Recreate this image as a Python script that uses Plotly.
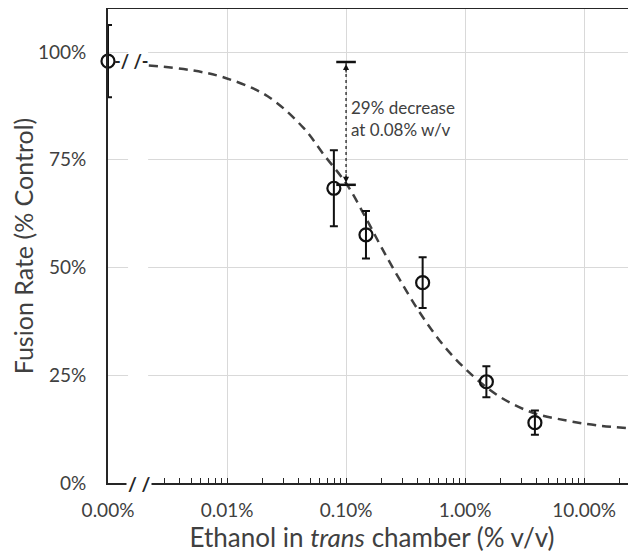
import math
import plotly.graph_objects as go

# ---- data ----
conc_pct = [0.001, 0.079, 0.147, 0.44, 1.51, 3.86]      # ethanol % v/v (control drawn at 0.00%)
fusion_pct = [97.9, 68.4, 57.6, 46.5, 23.5, 14.0]       # fusion rate, % of control
fusion_err = [8.4, 8.8, 5.5, 5.9, 3.6, 2.8]

fit_x = [0.0022, 0.005, 0.0097, 0.0218, 0.0439, 0.0646, 0.102, 0.15, 0.2,
         0.285, 0.434, 0.703, 1.17, 1.96, 3.71, 7.12, 12.7, 27.0]
fit_y = [96.9, 95.8, 94.0, 89.8, 82.4, 76.3, 69.2, 61.0, 54.5,
         47.0, 38.8, 31.0, 24.8, 20.0, 16.3, 14.5, 13.4, 12.6]

x_tickvals = [0.001, 0.01, 0.1, 1, 10]
x_ticktext = ["0.00%", "0.01%", "0.10%", "1.00%", "10.00%"]
y_tickvals = [0, 25, 50, 75, 100]
y_ticktext = ["0%", "25%", "50%", "75%", "100%"]

decrease_x = 0.1
decrease_top = 97.7
decrease_bottom = 69.2
decrease_text = "29% decrease<br>at 0.08% w/v"

FONT = "Lato"
TXT = "#404040"
AX = "#262626"
GRID = "#d9d9d9"

minor_vals = [m * 10 ** e for e in range(-3, 2) for m in range(2, 10)]

fig = go.Figure()

# fitted curve
fig.add_trace(go.Scatter(
    x=fit_x, y=fit_y, mode="lines", line_shape="spline",
    line=dict(color="#404040", width=2.5, dash="9px,6px"),
    hoverinfo="skip", showlegend=False))

# decrease indicator: dotted line + caps
fig.add_shape(type="line", x0=decrease_x, x1=decrease_x, y0=decrease_top, y1=decrease_bottom,
              xref="x", yref="y", line=dict(color="#111111", width=1.2, dash="dot"))
fig.add_trace(go.Scatter(
    x=[decrease_x, decrease_x], y=[decrease_top, decrease_bottom], mode="markers",
    marker=dict(symbol="line-ew", size=14, line=dict(color="#111111", width=2.5)),
    hoverinfo="skip", showlegend=False, cliponaxis=False))

# data points
fig.add_trace(go.Scatter(
    x=conc_pct, y=fusion_pct, mode="markers",
    marker=dict(symbol="circle-open", size=13, color="#111111", line=dict(width=2.2)),
    error_y=dict(type="data", array=fusion_err, color="#111111", thickness=2, width=4),
    cliponaxis=False, showlegend=False))

lx = math.log10(decrease_x)
for yv, ay in [(decrease_top, 12), (decrease_bottom, -12)]:
    fig.add_annotation(x=lx, y=yv, xref="x", yref="y", ax=0, ay=ay, text="",
                       showarrow=True, arrowhead=2, arrowsize=1.1, arrowwidth=1.1,
                       arrowcolor="#111111", standoff=2)

fig.add_annotation(x=lx + 0.025, y=84.7, xref="x", yref="y", text=decrease_text,
                   showarrow=False, xanchor="left", yanchor="middle", align="left",
                   font=dict(family=FONT, size=17, color=TXT))

# axis-break marks
fig.add_shape(type="rect", xref="x domain", yref="y domain", x0=0.038, x1=0.076,
              y0=0.006, y1=0.95, fillcolor="white", line=dict(width=0), layer="above")
fig.add_annotation(x=0.045, y=fusion_pct[0], xref="x domain", yref="y",
                   text="<b>-/ /-</b>", showarrow=False, xanchor="center", yanchor="middle",
                   font=dict(family=FONT, size=18, color=AX))
fig.add_annotation(x=0.059, y=0, xref="x domain", yref="y domain",
                   text="<b>/ /</b>", showarrow=False, xanchor="center", yanchor="middle",
                   bgcolor="white", borderpad=1,
                   font=dict(family=FONT, size=19, color=AX))

fig.update_layout(
    width=628, height=547,
    margin=dict(l=100, r=0, t=1, b=72),
    paper_bgcolor="white", plot_bgcolor="white",
    font=dict(family=FONT, color=TXT),
    showlegend=False,
)
fig.update_xaxes(
    type="log", range=[-3, 1.436],
    tickvals=x_tickvals, ticktext=x_ticktext,
    tickfont=dict(size=19, color=TXT),
    showgrid=True, gridcolor=GRID, gridwidth=1.2,
    showline=True, linecolor=AX, linewidth=2, mirror=True,
    ticks="inside", ticklen=5, tickcolor=AX, tickwidth=1,
    ticklabelstandoff=9,
    minor=dict(tickvals=minor_vals, ticks="inside", ticklen=5, tickcolor=AX, tickwidth=1, showgrid=False),
    title=dict(text="Ethanol in <i>trans</i> chamber (% v/v)", font=dict(size=26, color=TXT), standoff=5),
    zeroline=False,
)
fig.update_yaxes(
    range=[0, 110],
    tickvals=y_tickvals, ticktext=y_ticktext,
    tickfont=dict(size=19, color=TXT),
    showgrid=True, gridcolor=GRID, gridwidth=1.2,
    showline=True, linecolor=AX, linewidth=2,
    ticks="", ticklabelstandoff=16,
    title=dict(text="Fusion Rate (% Control)", font=dict(size=25, color=TXT), standoff=7),
    zeroline=False,
)

fig.write_html("out.html")
